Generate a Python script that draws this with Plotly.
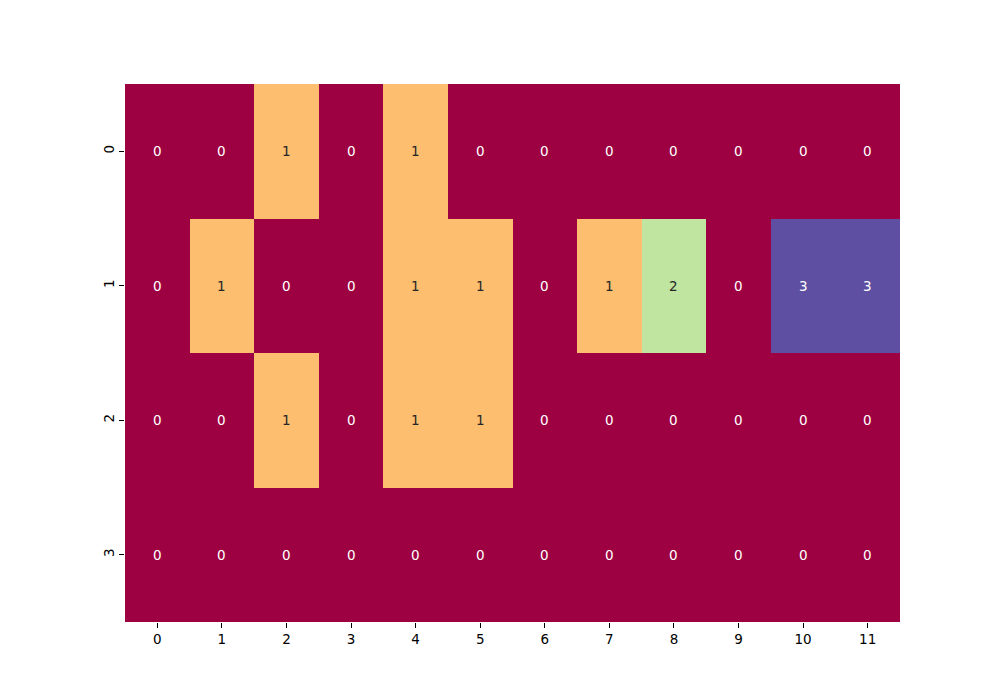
import plotly.graph_objects as go

cols = list(range(12))
rows = list(range(4))
row0 = [0, 0, 1, 0, 1, 0, 0, 0, 0, 0, 0, 0]
row1 = [0, 1, 0, 0, 1, 1, 0, 1, 2, 0, 3, 3]
row2 = [0, 0, 1, 0, 1, 1, 0, 0, 0, 0, 0, 0]
row3 = [0, 0, 0, 0, 0, 0, 0, 0, 0, 0, 0, 0]
z = [row0, row1, row2, row3]

palette = ["#9e0142", "#fdbf6f", "#bfe5a0", "#5e4fa2"]
colorscale = []
for i, c in enumerate(palette):
    colorscale.append([i / 4, c])
    colorscale.append([(i + 1) / 4, c])

fig = go.Figure(go.Heatmap(
    z=z, x=cols, y=rows, zmin=-0.5, zmax=3.5,
    colorscale=colorscale, showscale=False, xgap=0, ygap=0,
    hoverinfo="z",
))

for r, rowvals in zip(rows, z):
    for c, v in zip(cols, rowvals):
        fig.add_annotation(
            x=c, y=r, text=str(v), showarrow=False,
            font=dict(family="DejaVu Sans", size=13.5,
                      color="white" if v in (0, 3) else "#262626"),
        )

fig.update_layout(
    width=1000, height=700,
    margin=dict(l=117, r=108, t=76, b=86, autoexpand=False),
    paper_bgcolor="white", plot_bgcolor="white",
    font=dict(family="DejaVu Sans", size=13.5, color="black"),
)
fig.update_xaxes(
    tickmode="array", tickvals=cols, ticktext=[str(c) for c in cols],
    ticks="outside", ticklen=5, tickcolor="black", showgrid=False, zeroline=False,
    range=[-0.5, 11.5], showline=False, automargin=False,
)
fig.update_yaxes(
    tickmode="array", tickvals=rows, ticktext=[str(r) for r in rows],
    ticks="outside", ticklen=5, tickcolor="black", showgrid=False, zeroline=False,
    range=[3.5, -0.5], tickangle=-90, showline=False, automargin=False,
)

fig.write_html("out.html")
